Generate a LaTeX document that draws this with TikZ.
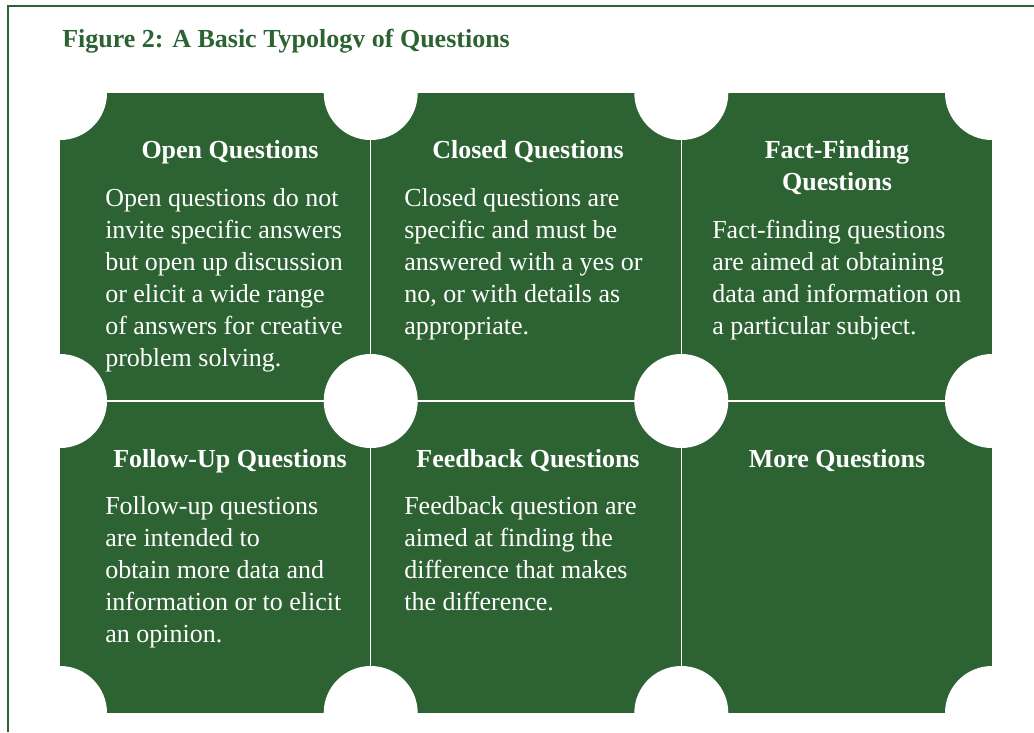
\documentclass[tikz,border=0pt]{standalone}
\usepackage{fontspec}
\setmainfont{Liberation Serif}
\definecolor{qgreen}{RGB}{45,98,50}
\begin{document}
\begin{tikzpicture}[x=0.75pt,y=-0.75pt,
  frameline/.style={draw=qgreen, line width=1.5pt},
  gridline/.style={draw=white, line width=0.9pt},
  hole/.style={fill=white},
  titletext/.style={anchor=base west, inner sep=0pt, text=qgreen, font=\bfseries\fontsize{19.5}{24}\selectfont},
  cellhead/.style={anchor=base, inner sep=0pt, text=white, font=\bfseries\fontsize{19.5}{24}\selectfont},
  cellbody/.style={anchor=base west, inner sep=0pt, text=white, font=\fontsize{19.5}{24}\selectfont}]
\useasboundingbox (0,0) rectangle (1034,732);
% frame
\coordinate (fbl) at (8,732);
\coordinate (ftl) at (8,6);
\coordinate (ftr) at (1034,6);
\draw[frameline] (fbl) -- (ftl) -- (ftr);
% title
\node[titletext] (title) at (62,47) {Figure 2: A Basic Typology of Questions};
% green panel
\coordinate (g00) at (60,93);
\coordinate (g32) at (992,713);
\fill[qgreen] (g00) rectangle (g32);
% grid lines
\foreach \x/\n in {370.7/1,681.3/2} {
  \coordinate (vt\n) at (\x,93);
  \coordinate (vb\n) at (\x,713);
  \draw[gridline] (vt\n) -- (vb\n);
}
\coordinate (hl) at (60,401);
\coordinate (hr) at (992,401);
\draw[gridline] (hl) -- (hr);
% holes at all grid vertices
\foreach \x in {60,370.7,681.3,992} {
  \foreach \y in {93,401,713} {
    \fill[hole] (\x,\y) circle[radius=47];
  }
}
% headings
\node[cellhead] (h1) at (230,158) {Open Questions};
\node[cellhead] (h2) at (528,158) {Closed Questions};
\node[cellhead] (h3) at (837,158) {\parbox[t]{200pt}{\centering Fact-Finding\\Questions}};
\node[cellhead] (h4) at (230,467) {Follow-Up Questions};
\node[cellhead] (h5) at (528,467) {Feedback Questions};
\node[cellhead] (h6) at (837,467) {More Questions};
% bodies
\node[cellbody] (b1) at (105,206) {\parbox[t]{220pt}{\raggedright
Open questions do not\\invite specific answers\\but open up discussion\\or elicit a wide range\\of answers for creative\\problem solving.}};
\node[cellbody] (b2) at (404,206) {\parbox[t]{220pt}{\raggedright
Closed questions are\\specific and must be\\answered with a yes or\\no, or with details as\\appropriate.}};
\node[cellbody] (b3) at (712,238) {\parbox[t]{220pt}{\raggedright
Fact-finding questions\\are aimed at obtaining\\data and information on\\a particular subject.}};
\node[cellbody] (b4) at (105,514) {\parbox[t]{220pt}{\raggedright
Follow-up questions\\are intended to\\obtain more data and\\information or to elicit\\an opinion.}};
\node[cellbody] (b5) at (404,514) {\parbox[t]{220pt}{\raggedright
Feedback question are\\aimed at finding the\\difference that makes\\the difference.}};
\end{tikzpicture}
\end{document}
